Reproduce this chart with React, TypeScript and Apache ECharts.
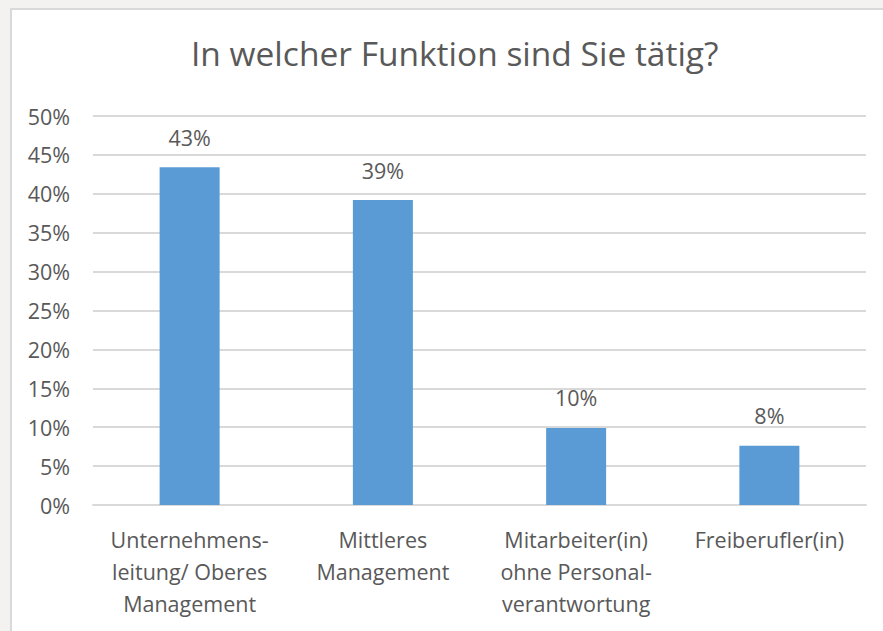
import React, { useEffect, useRef } from "react";
import * as echarts from "echarts";

const titleText = "In welcher Funktion sind Sie tätig?";
const categories = [
  "Unternehmens-\nleitung/ Oberes\nManagement",
  "Mittleres\nManagement",
  "Mitarbeiter(in)\nohne Personal-\nverantwortung",
  "Freiberufler(in)",
];
const values = [43.4, 39.2, 9.9, 7.6];
const yTicks = { min: 0, max: 50, interval: 5 };

const FONT = "'Open Sans', 'Noto Sans', sans-serif";
const TEXT = "#595959";

export default function App() {
  const ref = useRef<HTMLDivElement>(null);
  useEffect(() => {
    if (!ref.current) return;
    const chart = echarts.init(ref.current, null, { renderer: "svg" });
    chart.setOption({
      animation: false,
      title: {
        text: titleText,
        left: 186,
        top: 31,
        textStyle: { fontFamily: FONT, fontSize: 33.5, fontWeight: "normal", color: TEXT },
      },
      grid: { left: 93, right: 17, top: 116, bottom: 126, containLabel: false },
      xAxis: {
        type: "category",
        data: categories,
        axisLine: { lineStyle: { color: "#d9d9d9", width: 2 } },
        axisTick: { show: false },
        axisLabel: {
          fontFamily: FONT,
          fontSize: 21.5,
          color: TEXT,
          lineHeight: 32,
          margin: 18,
          interval: 0,
          align: "center",
        },
      },
      yAxis: {
        type: "value",
        min: yTicks.min,
        max: yTicks.max,
        interval: yTicks.interval,
        axisLine: { show: false },
        axisTick: { show: false },
        splitLine: { lineStyle: { color: "#d9d9d9", width: 2 } },
        axisLabel: {
          fontFamily: FONT,
          fontSize: 21.5,
          color: TEXT,
          margin: 23,
          formatter: (v: number) => `${v}%`,
        },
      },
      series: [
        {
          type: "bar",
          data: values,
          barWidth: 60,
          itemStyle: { color: "#5b9bd5" },
          label: {
            show: true,
            position: "top",
            distance: 19,
            fontFamily: FONT,
            fontSize: 21.5,
            color: TEXT,
            formatter: (p: any) => `${Math.round(p.value)}%`,
          },
        },
      ],
    });
    return () => chart.dispose();
  }, []);
  return (
    <div style={{ position: "fixed", left: 0, top: 0, width: 883, height: 631, background: "#f3f2f1", overflow: "hidden" }}>
      <div
        style={{
          position: "absolute",
          left: 10,
          top: 8,
          width: 900,
          height: 660,
          background: "#ffffff",
          border: "2px solid #d9d9d9",
          boxSizing: "border-box",
        }}
      />
      <div ref={ref} style={{ position: "absolute", left: 0, top: 0, width: 883, height: 631 }} />
    </div>
  );
}
